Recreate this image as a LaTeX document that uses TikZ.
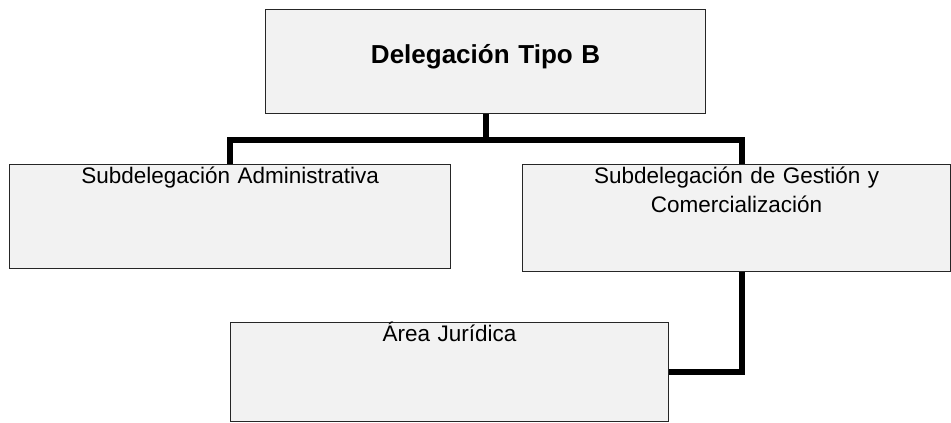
\documentclass[tikz,border=0pt]{standalone}
\usepackage{fontspec}
\setmainfont{Liberation Sans}
\usepackage{tikz}

\begin{document}
\begin{tikzpicture}[x=1pt, y=-1pt,
		unidad/.style={draw=black!85, line width=1.2pt, fill=black!5, anchor=north west, inner sep=0pt, align=center, font=\fontsize{22.5}{29}\selectfont, text height=19pt},
		enlace/.style={line width=6pt}] %
		\useasboundingbox (0,0) rectangle (951,423);
		% Top
		\node[unidad, text width=440pt, text height=54pt, text depth=50pt, font=\fontsize{26}{31}\selectfont\bfseries] (Delegacion) at (265,9) {Delegación Tipo B} ;
		% Subdelegaciones
		\node[unidad, text width=441pt, text depth=85pt] (Administrativa) at (9,164) {Subdelegación Administrativa} ;
		\node[unidad, text width=428pt, text depth=88pt] (Gestion) at (522,164) {Subdelegación de Gestión y\\Comercialización} ;
		\node[unidad, text width=438pt, text depth=80pt] (Juridica) at (230,322) {Área Jurídica} ;
		% Links
		\draw[enlace] (Delegacion.south) -- ++(0,26) coordinate (Rama) -| (Administrativa.north) ;
		\draw[enlace] (Rama) -| ([xshift=5pt]Gestion.north) ;
		\draw[enlace] ([xshift=5pt]Gestion.south) |- (Juridica.east) ;
	\end{tikzpicture}
\end{document}
